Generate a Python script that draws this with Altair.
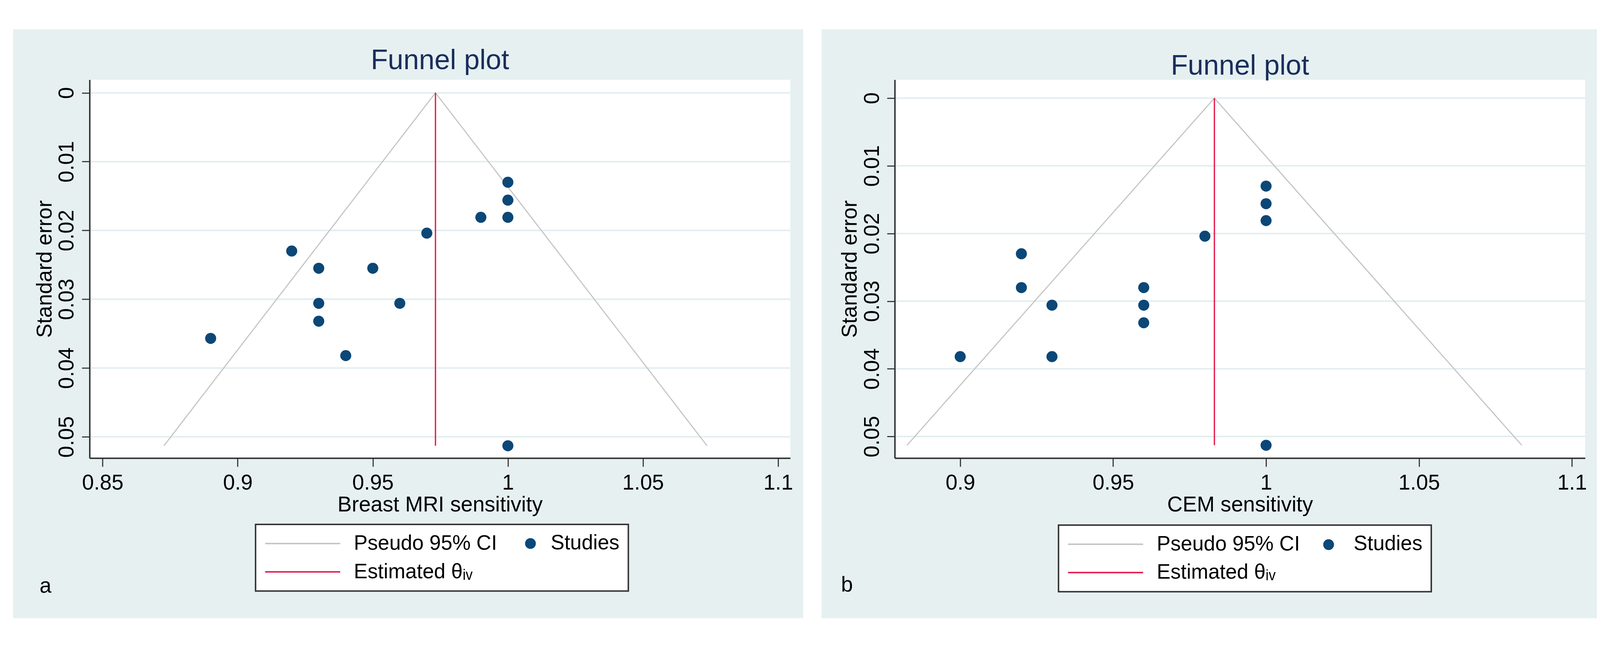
import altair as alt
import pandas as pd

# ---------------- values ----------------
# Panel a: Breast MRI
mri_sens = [1.00, 1.00, 1.00, 0.99, 0.97, 0.92, 0.93, 0.95, 0.93, 0.96, 0.93, 0.89, 0.94, 1.00]
mri_se = [0.0130, 0.0156, 0.0181, 0.0181, 0.0204, 0.0230, 0.0255, 0.0255, 0.0306, 0.0306,
          0.0332, 0.0357, 0.0382, 0.0513]
mri_theta = 0.9732
mri_ci_x = [0.8727, 0.9732, 1.0737]
mri_ci_se = [0.0513, 0.0, 0.0513]
mri_xticks = [0.85, 0.9, 0.95, 1.0, 1.05, 1.1]

# Panel b: CEM
cem_sens = [1.00, 1.00, 1.00, 0.98, 0.92, 0.92, 0.93, 0.96, 0.96, 0.96, 0.90, 0.93, 1.00]
cem_se = [0.0130, 0.0156, 0.0181, 0.0204, 0.0230, 0.0280, 0.0306, 0.0280, 0.0306, 0.0332,
          0.0382, 0.0382, 0.0513]
cem_theta = 0.9831
cem_ci_x = [0.8826, 0.9831, 1.0836]
cem_ci_se = [0.0513, 0.0, 0.0513]
cem_xticks = [0.9, 0.95, 1.0, 1.05, 1.1]

se_ticks = [0, 0.01, 0.02, 0.03, 0.04, 0.05]
line_labels = ["Pseudo 95% CI", "Estimated θᵢᵥ"]
point_label = "Studies"
panel_letters = ["a", "b"]
x_titles = ["Breast MRI sensitivity", "CEM sensitivity"]
plot_title = "Funnel plot"
y_title = "Standard error"

# ---------------- styles ----------------
FONT = "Liberation Sans"
BG = "#e6f0f1"
GRID = "#e1edef"
NAVY = "#0b4777"
RED = "#e5194b"
GRAY = "#c4c4c4"
TITLE_C = "#1a2e5c"
AXIS_C = "#333333"
LINE_PATH = "M-1,0H1"

# panel geometry (plot-area size, frame offsets relative to the plot origin)
geom = [
    dict(W=1904, H=1028, bg=(-208, 1939, -137, 1463), xdom=[0.8452, 1.1045],
         ydom=[-0.0019, 0.0531], ty=-29, lx=451, ly=1208, dot=(1198, 1260),
         letter=(-120, 1394)),
    dict(W=1876, H=1028, bg=(-199, 1908, -137, 1463), xdom=[0.8786, 1.1043],
         ydom=[-0.00272, 0.0532], ty=-14, lx=445, ly=1210, dot=(1179, 1263),
         letter=(-130, 1390)),
]


def panel(i, sens, se, theta, ci_x, ci_se, xticks):
    g = geom[i]
    W, H = g["W"], g["H"]
    xs = alt.Scale(domain=g["xdom"], nice=False, zero=False)
    ys = alt.Scale(domain=g["ydom"], nice=False, zero=False, reverse=True)
    xaxis = alt.Axis(values=xticks, format="~g", title=x_titles[i], grid=False,
                     tickSize=23, tickWidth=3, tickColor=AXIS_C, domainColor=AXIS_C, domainWidth=4,
                     labelPadding=16, labelFont=FONT, labelFontSize=58, labelColor="black",
                     titleFont=FONT, titleFontSize=58, titleFontWeight="normal", titleColor="black",
                     titlePadding=1, zindex=1, labelFlush=False, labelOverlap=False)
    yaxis = alt.Axis(values=se_ticks, format="~g", title=y_title, grid=False,
                     tickSize=21, tickWidth=3, tickColor=AXIS_C, domainColor=AXIS_C, domainWidth=4,
                     labelPadding=11, labelAngle=270, labelAlign="center", labelBaseline="bottom",
                     labelFont=FONT, labelFontSize=58, labelColor="black",
                     titleFont=FONT, titleFontSize=58, titleFontWeight="normal", titleColor="black",
                     titlePadding=2, zindex=1, labelFlush=False, labelOverlap=False)
    X = lambda f: alt.X(f, type="quantitative", scale=xs, axis=xaxis)
    Y = lambda f: alt.Y(f, type="quantitative", scale=ys, axis=yaxis)

    one = pd.DataFrame({"k": [0]})
    x1, x2, y1, y2 = g["bg"]
    bg = alt.Chart(one).mark_rect(color=BG).encode(
        x=alt.value(x1), x2=alt.value(x2), y=alt.value(y1), y2=alt.value(y2))
    plotbg = alt.Chart(one).mark_rect(color="white").encode(
        x=alt.value(0), x2=alt.value(W), y=alt.value(0), y2=alt.value(H))

    title = alt.Chart(pd.DataFrame({"t": [plot_title]})).mark_text(
        font=FONT, fontSize=76, color=TITLE_C, align="center", baseline="alphabetic").encode(
        text="t:N", x=alt.value(W / 2), y=alt.value(g["ty"]))

    grid = alt.Chart(pd.DataFrame({"y": se_ticks})).mark_rule(
        color=GRID, strokeWidth=4).encode(y=Y("y"), x=alt.value(0), x2=alt.value(W))

    ci = alt.Chart(pd.DataFrame({"x": ci_x, "y": ci_se})).mark_line(
        color=GRAY, strokeWidth=3).encode(x=X("x"), y=Y("y"))

    est = alt.Chart(pd.DataFrame({"x": [theta], "y": [0.0], "y2": [max(ci_se)]})).mark_rule(
        color=RED, strokeWidth=3.5).encode(x=X("x"), y=Y("y"), y2="y2:Q")

    pts = alt.Chart(pd.DataFrame({"x": sens, "y": se})).mark_circle(
        color=NAVY, size=900, opacity=1).encode(x=X("x"), y=Y("y"))

    lx, ly = g["letter"]
    letter = alt.Chart(pd.DataFrame({"t": [panel_letters[i]]})).mark_text(
        font=FONT, fontSize=58, color="black", align="center", baseline="alphabetic").encode(
        text="t:N", x=alt.value(lx), y=alt.value(ly))

    # legend 1: framed box, line entries, "Studies" text on its right
    L1 = alt.Legend(title=point_label, titleOrient="right", titlePadding=146, titleFont=FONT,
                    titleFontSize=56, titleFontWeight="normal", titleColor="black",
                    titleBaseline="top", titleAnchor="start", titleLimit=1000,
                    orient="none", legendX=g["lx"], legendY=g["ly"],
                    rowPadding=21, clipHeight=56, padding=24, labelOffset=35,
                    symbolType=LINE_PATH, symbolSize=41616, symbolStrokeWidth=4,
                    symbolOpacity=1, labelFont=FONT, labelFontSize=56, labelColor="black",
                    labelLimit=3000, strokeColor=AXIS_C, fillColor="white", cornerRadius=0,
                    zindex=1)
    leg1 = alt.Chart(pd.DataFrame({"series": line_labels})).transform_filter("false").mark_point(
        filled=False, opacity=1, strokeWidth=4).encode(
        stroke=alt.Stroke("series:N", scale=alt.Scale(domain=line_labels, range=[GRAY, RED]),
                          legend=L1))

    # legend 2: the marker of "Studies"
    dx, dy = g["dot"]
    L2 = alt.Legend(title=None, orient="none", legendX=dx - 15, legendY=dy - 28,
                    clipHeight=56, padding=0, labelOffset=0, labelExpr="''",
                    symbolType="circle", symbolSize=860, symbolStrokeWidth=0, symbolOpacity=1,
                    zindex=2)
    leg2 = alt.Chart(pd.DataFrame({"series": [point_label]})).transform_filter("false").mark_point(
        filled=True, opacity=1).encode(
        fill=alt.Fill("series:N", scale=alt.Scale(domain=[point_label], range=[NAVY]), legend=L2))

    return alt.layer(bg, plotbg, title, grid, ci, est, pts, letter, leg1, leg2).properties(
        width=W, height=H)


pa = panel(0, mri_sens, mri_se, mri_theta, mri_ci_x, mri_ci_se, mri_xticks)
pb = panel(1, cem_sens, cem_se, cem_theta, cem_ci_x, cem_ci_se, cem_xticks)

chart = alt.hconcat(pa, pb, spacing=50).resolve_scale(
    fill="independent", stroke="independent"
).resolve_legend(
    fill="independent", stroke="independent"
).properties(
    padding={"left": 27, "top": 22, "right": 0, "bottom": -25}, background="white"
).configure_view(strokeWidth=0).configure_legend(strokeWidth=4)

chart.save("out.html", embed_options={"renderer": "svg", "actions": False})
